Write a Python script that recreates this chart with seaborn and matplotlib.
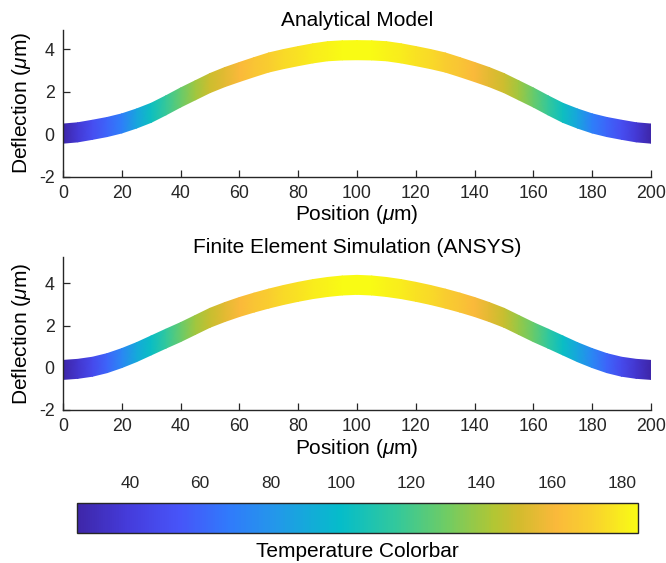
import numpy as np
import matplotlib
matplotlib.use("Agg")
import matplotlib.pyplot as plt
from matplotlib.colors import LinearSegmentedColormap, Normalize
import seaborn as sns

# ---------------- data ----------------
position = [0, 5, 10, 15, 20, 25, 30, 35, 40, 45, 50, 55, 60, 65, 70, 75, 80, 85, 90, 95,
            100, 105, 110, 115, 120, 125, 130, 135, 140, 145, 150, 155, 160, 165, 170, 175,
            180, 185, 190, 195, 200]

defl_analytical = [0.02, 0.08, 0.20, 0.33, 0.50, 0.73, 1.00, 1.35, 1.72, 2.06, 2.40, 2.68,
                   2.92, 3.15, 3.37, 3.53, 3.67, 3.80, 3.90, 3.94, 3.95, 3.94, 3.90, 3.80,
                   3.67, 3.53, 3.37, 3.15, 2.92, 2.68, 2.40, 2.06, 1.72, 1.35, 1.00, 0.73,
                   0.50, 0.33, 0.20, 0.08, 0.02]
temp_analytical = [25, 38, 50, 60, 70, 88, 103, 116, 128, 140, 149, 155, 161, 166, 170, 174,
                   177, 180, 182, 184, 184, 184, 182, 180, 177, 174, 170, 166, 161, 155, 149,
                   140, 128, 116, 103, 88, 70, 60, 50, 38, 25]

defl_ansys = [-0.10, -0.05, 0.05, 0.22, 0.46, 0.74, 1.06, 1.38, 1.69, 2.03, 2.37, 2.64,
              2.88, 3.09, 3.28, 3.45, 3.60, 3.73, 3.83, 3.90, 3.93, 3.90, 3.83, 3.73,
              3.60, 3.45, 3.28, 3.09, 2.88, 2.64, 2.37, 2.03, 1.69, 1.38, 1.06, 0.74,
              0.46, 0.22, 0.05, -0.05, -0.10]
temp_ansys = [25, 36, 48, 60, 74, 90, 102, 115, 128, 140, 148, 155, 161, 166, 170, 174,
              177, 180, 182, 184, 184, 184, 182, 180, 177, 174, 170, 166, 161, 155, 148,
              138, 128, 115, 102, 88, 74, 60, 48, 36, 25]

titles = ["Analytical Model", "Finite Element Simulation (ANSYS)"]
x_ticks = [0, 20, 40, 60, 80, 100, 120, 140, 160, 180, 200]
y_ticks = [-2, 0, 2, 4]
cbar_ticks = [40, 60, 80, 100, 120, 140, 160, 180]
temp_range = (25, 184.5)

# ---------------- style ----------------
sns.set_theme(style="ticks")
plt.rcParams["font.family"] = ["Liberation Sans", "DejaVu Sans"]
plt.rcParams["mathtext.fontset"] = "custom"
plt.rcParams["mathtext.rm"] = "Liberation Sans"
plt.rcParams["mathtext.it"] = "Liberation Sans:italic"
plt.rcParams["axes.unicode_minus"] = False
plt.rcParams["xtick.direction"] = "in"
plt.rcParams["ytick.direction"] = "in"

parula = LinearSegmentedColormap.from_list("parula_like", [
    (0.00, (0.243, 0.150, 0.660)),
    (0.09, (0.270, 0.235, 0.860)),
    (0.18, (0.280, 0.330, 0.975)),
    (0.27, (0.190, 0.480, 0.985)),
    (0.35, (0.140, 0.590, 0.920)),
    (0.47, (0.020, 0.740, 0.790)),
    (0.57, (0.200, 0.785, 0.610)),
    (0.66, (0.440, 0.800, 0.390)),
    (0.745, (0.700, 0.775, 0.200)),
    (0.79, (0.830, 0.735, 0.180)),
    (0.855, (0.980, 0.725, 0.230)),
    (0.92, (0.975, 0.820, 0.180)),
    (1.00, (0.976, 0.984, 0.080)),
])
norm = Normalize(*temp_range)

W, H = 666, 563
fig = plt.figure(figsize=(W / 100, H / 100), dpi=100)

def ax_rect(l, t, r, b):
    return [l / W, 1 - b / H, (r - l) / W, (b - t) / H]

axes = [fig.add_axes(ax_rect(63, 30, 651, 176.5)),
        fig.add_axes(ax_rect(63, 257, 651, 410))]
ylims = [(-2, 4.9), (-2, 5.25)]
half = 0.45
dark = (0.15, 0.15, 0.15)

for ax, title, d, t, yl in zip(axes, titles,
                                [defl_analytical, defl_ansys],
                                [temp_analytical, temp_ansys], ylims):
    df_x = np.asarray(position, dtype=float)
    df_y = np.asarray(d, dtype=float)
    df_t = np.asarray(t, dtype=float)
    X = np.vstack([df_x, df_x])
    Y = np.vstack([df_y - half, df_y + half])
    C = np.vstack([df_t, df_t])
    ax.pcolormesh(X, Y, C, shading="gouraud", cmap=parula, norm=norm, rasterized=True)
    ax.set_xlim(0, 200)
    ax.set_ylim(*yl)
    ax.set_xticks(x_ticks)
    ax.set_yticks(y_ticks)
    sns.despine(ax=ax)
    for s in ("left", "bottom"):
        ax.spines[s].set_color(dark)
        ax.spines[s].set_linewidth(1.0)
    ax.tick_params(colors=dark, labelsize=12.8, length=5, width=0.9, pad=6)
    ax.set_xlabel(r"Position ($\mu$m)", fontsize=15, color="black", labelpad=1)
    ax.set_ylabel(r"Deflection ($\mu$m)", fontsize=15, color="black", labelpad=4)
    ax.set_title(title, fontsize=15, color="black", pad=2)
    ax.set_facecolor("white")

# colorbar
cax = fig.add_axes(ax_rect(77, 502.5, 638, 532.5))
sm = matplotlib.cm.ScalarMappable(norm=norm, cmap=parula)
cb = fig.colorbar(sm, cax=cax, orientation="horizontal")
cb.set_ticks(cbar_ticks)
cax.xaxis.set_ticks_position("top")
cax.xaxis.set_label_position("bottom")
cax.tick_params(axis="x", direction="in", length=5, width=0.8, colors=dark,
                labelsize=12.5, pad=8, top=True, bottom=False, labeltop=True, labelbottom=False)
cb.outline.set_edgecolor(dark)
cb.outline.set_linewidth(1.0)
cb.set_label("Temperature Colorbar", fontsize=15, color="black", labelpad=7)

fig.savefig("out.png", dpi=100, facecolor="white")
